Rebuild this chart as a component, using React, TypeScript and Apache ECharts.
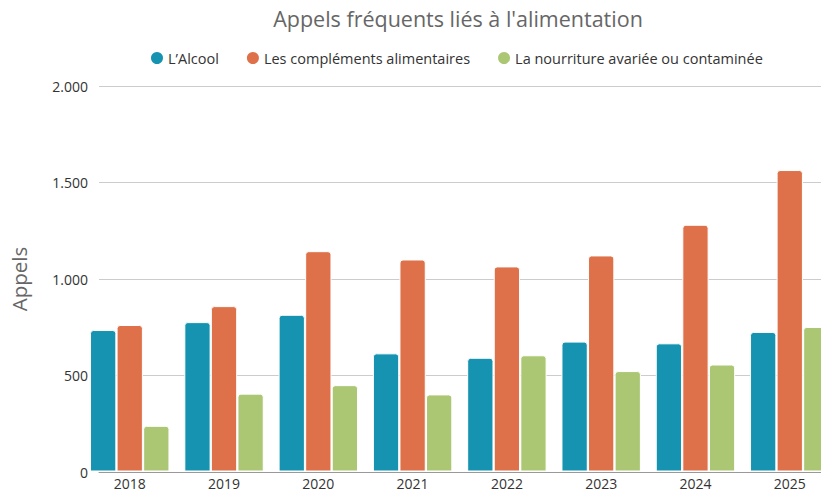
import React, { useEffect, useRef } from "react";
import * as echarts from "echarts";

const categories = ["2018", "2019", "2020", "2021", "2022", "2023", "2024", "2025"];
const alcool = [734, 775, 813, 613, 590, 674, 665, 724];
const complements = [760, 858, 1143, 1100, 1064, 1121, 1280, 1564];
const nourriture = [237, 404, 448, 400, 603, 521, 555, 750];
const seriesNames = [
  "L’Alcool",
  "Les compléments alimentaires",
  "La nourriture avariée ou contaminée",
];
const colors = ["#1693b0", "#de7149", "#abc774"];

const FONT = "'Open Sans', 'Noto Sans', sans-serif";

function fmt(v: number): string {
  return String(v).replace(/\B(?=(\d{3})+(?!\d))/g, ".");
}

export default function App() {
  const ref = useRef<HTMLDivElement>(null);
  useEffect(() => {
    document.body.style.margin = "0";
    const chart = echarts.init(ref.current!, null, { renderer: "svg" });
    const data = [alcool, complements, nourriture];
    chart.setOption({
      animation: false,
      textStyle: { fontFamily: FONT },
      title: {
        text: "Appels fréquents liés à l'alimentation",
        left: 453,
        textAlign: "center",
        top: 2,
        textStyle: { fontFamily: FONT, fontSize: 21.5, fontWeight: "normal", color: "#666" },
      },
      legend: {
        left: 144,
        top: 45,
        icon: "circle",
        itemWidth: 14,
        itemHeight: 14,
        itemGap: 26,
        textStyle: { fontFamily: FONT, fontSize: 14.5, color: "#333", padding: [0, 0, 0, -1] },
        data: seriesNames,
      },
      grid: [
        { left: 90, right: 0, top: 86, bottom: 18 },
        { left: 82.6, right: 13.1, top: 86, bottom: 18 },
      ],
      xAxis: [
        {
          gridIndex: 0,
          type: "category",
          data: [""],
          axisLine: { show: true, lineStyle: { color: "#999", width: 1 } },
          axisTick: { show: false },
          axisLabel: { show: false },
        },
        {
          gridIndex: 1,
          type: "category",
          data: categories,
          axisLine: { show: false },
          axisTick: { show: false },
          axisLabel: { fontFamily: FONT, fontSize: 14, lineHeight: 13, color: "#333", margin: 5 },
        },
      ],
      yAxis: [
        {
          gridIndex: 0,
          type: "value",
          min: 0,
          max: 2000,
          interval: 500,
          name: "Appels",
          nameLocation: "middle",
          nameRotate: 90,
          nameGap: 70,
          nameTextStyle: { fontFamily: FONT, fontSize: 20.5, color: "#666" },
          axisLine: { show: false },
          axisTick: { show: false },
          axisLabel: {
            fontFamily: FONT,
            fontSize: 14,
            color: "#333",
            margin: 11,
            formatter: (v: number) => fmt(v),
          },
          splitLine: { show: true, lineStyle: { color: "#cccccc", width: 1 } },
        },
        {
          gridIndex: 1,
          type: "value",
          min: 0,
          max: 2000,
          interval: 500,
          show: false,
          splitLine: { show: false },
        },
      ],
      series: seriesNames.map((name, i) => ({
        name,
        type: "bar",
        xAxisIndex: 1,
        yAxisIndex: 1,
        data: data[i],
        barWidth: 26.3,
        barGap: "1%",
        itemStyle: {
          color: colors[i],
          borderColor: "#fff",
          borderWidth: 1,
          borderRadius: [3, 3, 0, 0],
        },
      })),
    });
    return () => chart.dispose();
  }, []);
  return (
    <div style={{ width: 821, height: 490, overflow: "hidden", position: "relative" }}>
      <div ref={ref} style={{ width: 850, height: 490 }} />
    </div>
  );
}
